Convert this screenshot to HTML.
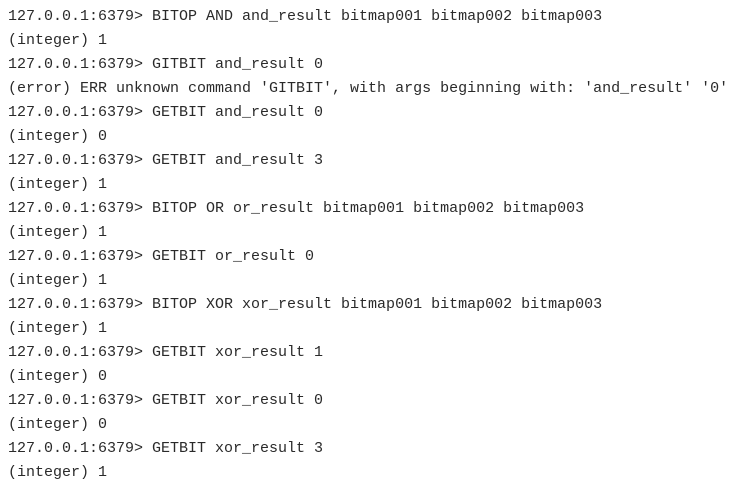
<!DOCTYPE html>
<html><head><meta charset="utf-8"><style>
html,body{margin:0;padding:0;background:#fff;width:743px;height:482px;overflow:hidden}
pre{margin:0;position:absolute;left:8px;top:-19px;font-family:"Liberation Mono",monospace;font-size:15px;line-height:24px;color:#2a2a2a;white-space:pre}
</style></head><body><pre>(integer) 1
127.0.0.1:6379> BITOP AND and_result bitmap001 bitmap002 bitmap003
(integer) 1
127.0.0.1:6379> GITBIT and_result 0
(error) ERR unknown command 'GITBIT', with args beginning with: 'and_result' '0'
127.0.0.1:6379> GETBIT and_result 0
(integer) 0
127.0.0.1:6379> GETBIT and_result 3
(integer) 1
127.0.0.1:6379> BITOP OR or_result bitmap001 bitmap002 bitmap003
(integer) 1
127.0.0.1:6379> GETBIT or_result 0
(integer) 1
127.0.0.1:6379> BITOP XOR xor_result bitmap001 bitmap002 bitmap003
(integer) 1
127.0.0.1:6379> GETBIT xor_result 1
(integer) 0
127.0.0.1:6379> GETBIT xor_result 0
(integer) 0
127.0.0.1:6379> GETBIT xor_result 3
(integer) 1</pre></body></html>
